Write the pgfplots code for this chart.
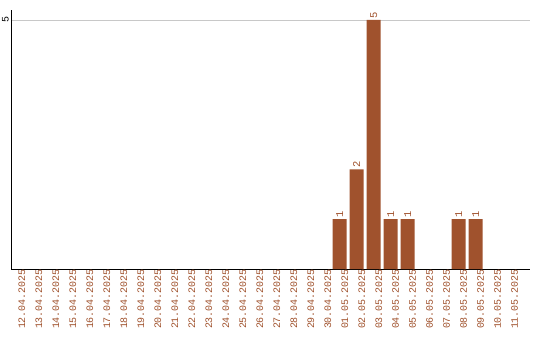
\documentclass[border=0pt]{standalone}
\usepackage{fontspec}
\setmonofont{Liberation Mono}
\usepackage{pgfplots}
\pgfplotsset{compat=1.18}
\definecolor{barc}{RGB}{160,82,45}
\definecolor{gridc}{RGB}{200,200,200}
\begin{document}
\begin{tikzpicture}[x=1bp,y=1bp]
\path (0,0) rectangle (540,340);
\begin{axis}[
  at={(11bp,71bp)}, anchor=south west,
  width=519bp, height=259bp, scale only axis,
  xmin=-0.35, xmax=30.2, ymin=0, ymax=5.2,
  /pgf/number format/assume math mode=true,
  axis x line=bottom, axis y line=left, axis line style={-, black, line width=0.9pt},
  major tick length=0pt,
  ytick={5}, yticklabels={5}, ymajorgrids, grid style={gridc, line width=0.7pt},
  yticklabel style={rotate=90, anchor=south, inner sep=2pt, font=\ttfamily\fontsize{10}{10}\selectfont},
  xtick={0,...,29},
  xticklabels={12.04.2025,13.04.2025,14.04.2025,15.04.2025,16.04.2025,17.04.2025,18.04.2025,19.04.2025,20.04.2025,21.04.2025,22.04.2025,23.04.2025,24.04.2025,25.04.2025,26.04.2025,27.04.2025,28.04.2025,29.04.2025,30.04.2025,01.05.2025,02.05.2025,03.05.2025,04.05.2025,05.05.2025,06.05.2025,07.05.2025,08.05.2025,09.05.2025,10.05.2025,11.05.2025},
  xticklabel style={rotate=90, anchor=east, inner sep=0pt, xshift=0pt, yshift=-5bp, text=barc, font=\ttfamily\fontsize{10}{10}\selectfont},
  ybar, bar width=14bp,
  nodes near coords,
  every node near coord/.append style={rotate=90, anchor=west, inner sep=1.5pt, text=barc, font=\ttfamily\fontsize{10.5}{10.5}\selectfont},
]
\addplot[fill=barc, draw=none] coordinates {(19,1) (20,2) (21,5) (22,1) (23,1) (26,1) (27,1)};
\end{axis}
\end{tikzpicture}
\end{document}
